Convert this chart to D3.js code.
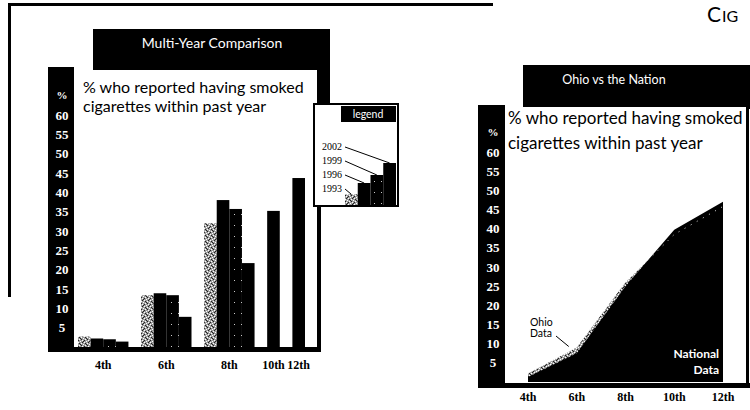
<!DOCTYPE html>
<html><head><meta charset="utf-8">
<script src="https://cdn.jsdelivr.net/npm/d3@7"></script>
<style>
html,body{margin:0;padding:0;background:#fff;}
svg{display:block;}
</style></head><body>
<svg id="c" width="750" height="410" font-family="Lato, 'Open Sans', sans-serif"></svg>
<script>
// Survey results: share of students who smoked cigarettes within the past year
const grades = ["4th", "6th", "8th", "10th", "12th"];
const years = ["1993", "1996", "1999", "2002"];
const smoked1993 = [2.7, 13.4, 32.0, null, null];
const smoked1996 = [2.2, 13.9, 38.0, null, null];
const smoked1999 = [2.0, 13.4, 35.7, null, null];
const smoked2002 = [1.4, 7.8, 21.7, 35.2, 43.7];
const yTickValues = [5, 10, 15, 20, 25, 30, 35, 40, 45, 50, 55, 60];
const nationalData = [1.3, 7.5, 25.0, 39.7, 47.0];
const ohioData = [2.2, 9.0, 26.0, 38.5, 45.8];

const svg = d3.select("#c");
const defs = svg.append("defs");

// light stipple texture
const st = defs.append("pattern").attr("id", "stipple").attr("patternUnits", "userSpaceOnUse")
  .attr("width", 6).attr("height", 6);
st.append("rect").attr("width", 6).attr("height", 6).attr("fill", "#9c9c9c");
[[0,0],[3,1],[1,3],[4,4],[2,5],[5,2]].forEach(([x, y]) =>
  st.append("rect").attr("x", x).attr("y", y).attr("width", 1).attr("height", 1).attr("fill", "#fff"));
[[1,1],[4,0],[0,4],[3,3],[5,5],[2,2]].forEach(([x, y]) =>
  st.append("rect").attr("x", x).attr("y", y).attr("width", 1).attr("height", 1).attr("fill", "#222"));

// dark texture with sparse white flecks
const dk = defs.append("pattern").attr("id", "dark").attr("patternUnits", "userSpaceOnUse")
  .attr("width", 7).attr("height", 11);
dk.append("rect").attr("width", 7).attr("height", 11).attr("fill", "#000");
dk.append("rect").attr("x", 3).attr("y", 5).attr("width", 1).attr("height", 1).attr("fill", "#ccc");

const seriesFill = {"1993": "url(#stipple)", "1996": "#000", "1999": "url(#dark)", "2002": "#000"};
const seriesValues = {"1993": smoked1993, "1996": smoked1996, "1999": smoked1999, "2002": smoked2002};
const tickFont = "'Liberation Serif', serif";

// ---------- outer frame ----------
svg.append("rect").attr("x", 8).attr("y", 3).attr("width", 485).attr("height", 3).attr("fill", "#000");
svg.append("rect").attr("x", 8).attr("y", 3).attr("width", 3).attr("height", 294).attr("fill", "#000");

// heading fragment at the top right
const hd = svg.append("text").attr("x", 707).attr("y", 22).attr("fill", "#000");
hd.append("tspan").attr("font-size", 21).text("C");
hd.append("tspan").attr("font-size", 16).attr("dx", 1).text("IG");

// ---------- left panel: multi-year comparison ----------
const L = svg.append("g");
L.append("rect").attr("x", 93).attr("y", 29).attr("width", 237).attr("height", 76).attr("fill", "#000");
L.append("rect").attr("x", 48).attr("y", 67).attr("width", 26).attr("height", 285).attr("fill", "#000");
L.append("rect").attr("x", 48).attr("y", 347).attr("width", 273).attr("height", 5).attr("fill", "#000");
L.append("rect").attr("x", 317).attr("y", 70).attr("width", 4).attr("height", 282).attr("fill", "#000");
L.append("rect").attr("x", 74).attr("y", 70).attr("width", 243).attr("height", 277).attr("fill", "#fff");

L.append("text").attr("x", 212).attr("y", 48).attr("text-anchor", "middle")
  .attr("fill", "#fff").attr("font-size", 14).text("Multi-Year Comparison");

L.append("text").attr("x", 83).attr("y", 93).attr("font-size", 16).attr("fill", "#000")
  .text("% who reported having smoked");
L.append("text").attr("x", 83).attr("y", 112).attr("font-size", 16).attr("fill", "#000")
  .text("cigarettes within past year");

const yL = d3.scaleLinear().domain([0, 60]).range([347, 115]);

// lay bars out in slots: one slot per bar, one empty slot between grades
const bars = [];
const groupSlots = [];
let slot = 0;
grades.forEach((g, gi) => {
  const start = slot;
  years.forEach(yr => {
    const v = seriesValues[yr][gi];
    if (v != null) bars.push({grade: g, year: yr, value: v, slot: slot++});
  });
  groupSlots.push({grade: g, start: start, end: slot});
  slot++;
});
const xSlot = d3.scaleBand().domain(d3.range(slot - 1)).range([78, 305]).paddingInner(0);

L.selectAll("rect.bar").data(bars).enter().append("rect").attr("class", "bar")
  .attr("x", d => xSlot(d.slot))
  .attr("width", xSlot.bandwidth())
  .attr("y", d => yL(d.value))
  .attr("height", d => yL(0) - yL(d.value))
  .attr("fill", d => seriesFill[d.year]);

L.selectAll("text.yt").data(yTickValues).enter().append("text").attr("class", "yt")
  .attr("x", 62).attr("y", d => yL(d) + 4.5).attr("text-anchor", "middle")
  .attr("font-family", tickFont).attr("fill", "#fff").attr("font-size", 13)
  .attr("font-weight", "bold").text(d => d);
L.append("text").attr("x", 62).attr("y", 99).attr("text-anchor", "middle")
  .attr("font-family", tickFont).attr("fill", "#fff").attr("font-size", 11)
  .attr("font-weight", "bold").text("%");

L.selectAll("text.xt").data(groupSlots).enter().append("text").attr("class", "xt")
  .attr("x", d => (xSlot(d.start) + xSlot(d.end - 1) + xSlot.bandwidth()) / 2)
  .attr("y", 369).attr("text-anchor", "middle")
  .attr("font-family", tickFont).attr("font-weight", "bold")
  .attr("font-size", 12).attr("fill", "#000").text(d => d.grade);

// legend
const lg = svg.append("g");
lg.append("rect").attr("x", 314).attr("y", 104).attr("width", 84).attr("height", 102)
  .attr("fill", "#fff").attr("stroke", "#000").attr("stroke-width", 2);
lg.append("rect").attr("x", 341).attr("y", 106).attr("width", 55).attr("height", 16).attr("fill", "#000");
lg.append("text").attr("x", 368).attr("y", 118).attr("text-anchor", "middle")
  .attr("fill", "#fff").attr("font-size", 10.5).text("legend");

const legendVals = [1.6, 3.3, 4.5, 6.3];
const yLeg = d3.scaleLinear().domain([0, 6.3]).range([205, 163]);
const xLeg = d3.scaleBand().domain(years).range([345, 396]).paddingInner(0);
lg.selectAll("rect.lb").data(years).enter().append("rect").attr("class", "lb")
  .attr("x", d => xLeg(d)).attr("width", xLeg.bandwidth())
  .attr("y", (d, i) => yLeg(legendVals[i]))
  .attr("height", (d, i) => yLeg(0) - yLeg(legendVals[i]))
  .attr("fill", d => seriesFill[d]);
const legRows = years.slice().reverse();
lg.selectAll("text.ll").data(legRows).enter().append("text").attr("class", "ll")
  .attr("x", 322).attr("y", (d, i) => 150 + i * 14)
  .attr("font-family", tickFont).attr("font-size", 10).attr("fill", "#000")
  .text(d => d);
lg.selectAll("line.ll").data(legRows).enter().append("line").attr("class", "ll")
  .attr("x1", 345).attr("y1", (d, i) => 147 + i * 14)
  .attr("x2", d => xLeg(d) + xLeg.bandwidth() / 2)
  .attr("y2", d => yLeg(legendVals[years.indexOf(d)]))
  .attr("stroke", "#000").attr("stroke-width", 1);

// ---------- right panel: Ohio vs the Nation ----------
const R = svg.append("g");
R.append("rect").attr("x", 523).attr("y", 65).attr("width", 227).attr("height", 44).attr("fill", "#000");
R.append("rect").attr("x", 478).attr("y", 105).attr("width", 27).attr("height", 283).attr("fill", "#000");
R.append("rect").attr("x", 478).attr("y", 383).attr("width", 272).attr("height", 5).attr("fill", "#000");
R.append("rect").attr("x", 746).attr("y", 105).attr("width", 3).attr("height", 283).attr("fill", "#000");
R.append("rect").attr("x", 505).attr("y", 107).attr("width", 241).attr("height", 276).attr("fill", "#fff");

R.append("text").attr("x", 614).attr("y", 84).attr("text-anchor", "middle")
  .attr("fill", "#fff").attr("font-size", 12.5).text("Ohio vs the Nation");
R.append("text").attr("x", 508).attr("y", 124).attr("font-size", 17).attr("fill", "#000")
  .text("% who reported having smoked");
R.append("text").attr("x", 508).attr("y", 149).attr("font-size", 17).attr("fill", "#000")
  .text("cigarettes within past year");

const yR = d3.scaleLinear().domain([0, 60]).range([382, 152]);
const xR = d3.scalePoint().domain(grades).range([528, 723]);

const areaFor = vals => d3.area()
  .x((d, i) => xR(grades[i])).y0(yR(0)).y1((d, i) => yR(vals[i]))(vals);
R.append("path").attr("d", areaFor(ohioData)).attr("fill", "url(#stipple)");
R.append("path").attr("d", areaFor(nationalData)).attr("fill", "#000");
R.append("path")
  .attr("d", d3.line().x((d, i) => xR(grades[i])).y(d => yR(d))(ohioData))
  .attr("fill", "none").attr("stroke", "#ddd").attr("stroke-width", 1)
  .attr("stroke-dasharray", "1 6");

R.selectAll("text.yt").data(yTickValues).enter().append("text").attr("class", "yt")
  .attr("x", 493).attr("y", d => yR(d) + 4.5).attr("text-anchor", "middle")
  .attr("font-family", tickFont).attr("fill", "#fff").attr("font-size", 13)
  .attr("font-weight", "bold").text(d => d);
R.append("text").attr("x", 493).attr("y", 136).attr("text-anchor", "middle")
  .attr("font-family", tickFont).attr("fill", "#fff").attr("font-size", 11)
  .attr("font-weight", "bold").text("%");

R.selectAll("text.xt").data(grades).enter().append("text").attr("class", "xt")
  .attr("x", d => xR(d)).attr("y", 401).attr("text-anchor", "middle")
  .attr("font-family", tickFont).attr("font-weight", "bold")
  .attr("font-size", 12).attr("fill", "#000").text(d => d);

// series labels
R.append("text").attr("x", 530).attr("y", 326).attr("font-size", 10.5).attr("fill", "#000").text("Ohio");
R.append("text").attr("x", 530).attr("y", 337).attr("font-size", 10.5).attr("fill", "#000").text("Data");
R.append("line").attr("x1", 556).attr("y1", 336).attr("x2", xR("6th") - 8).attr("y2", yR(ohioData[1]) - 1)
  .attr("stroke", "#000").attr("stroke-width", 1);
R.append("text").attr("x", 719).attr("y", 358).attr("text-anchor", "end").attr("font-size", 12)
  .attr("font-weight", "bold").attr("fill", "#fff").text("National");
R.append("text").attr("x", 719).attr("y", 374).attr("text-anchor", "end").attr("font-size", 12)
  .attr("font-weight", "bold").attr("fill", "#fff").text("Data");
</script>
</body></html>
